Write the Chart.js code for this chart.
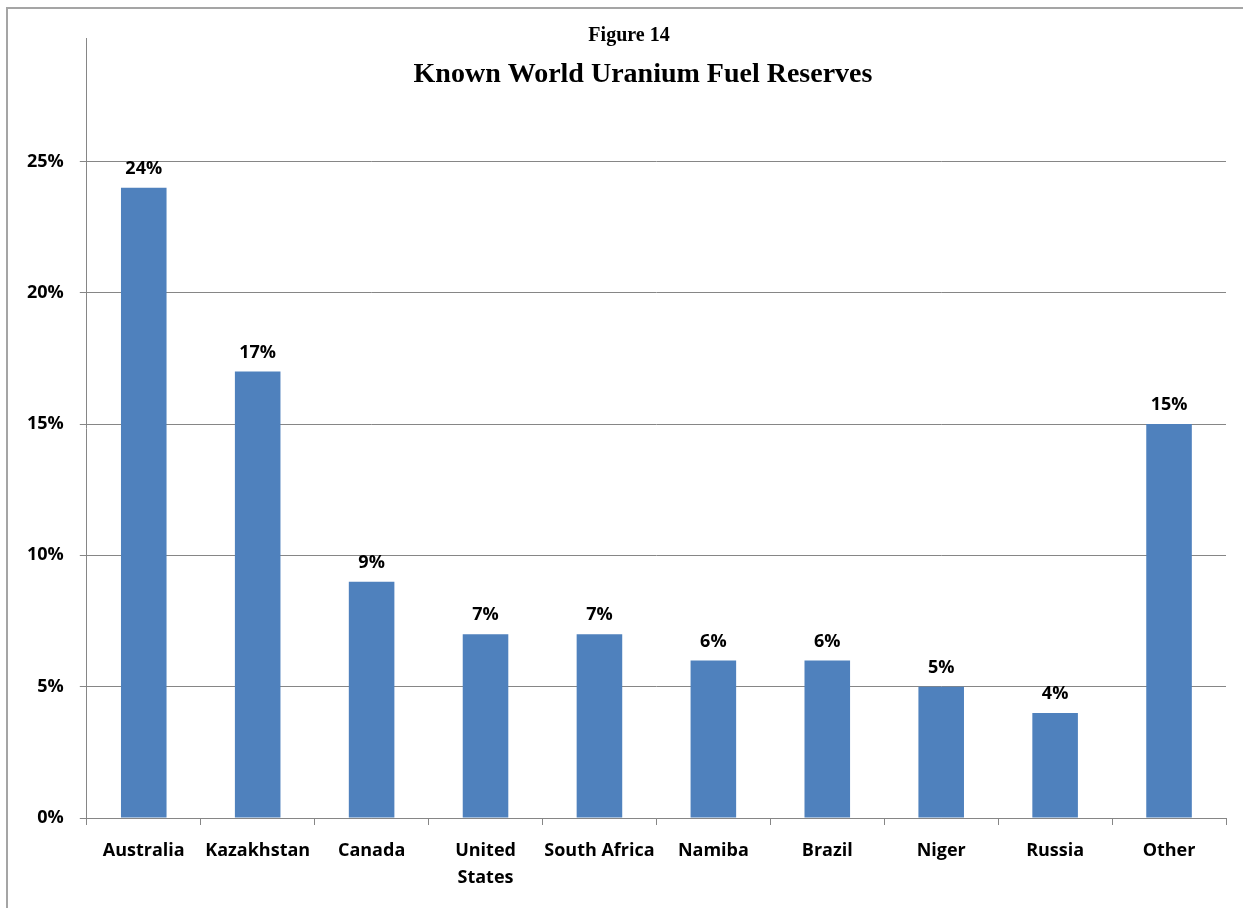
<!DOCTYPE html>
<html>
<head>
<meta charset="utf-8">
<script src="https://cdn.jsdelivr.net/npm/chart.js@4"></script>
<style>
  html, body { margin: 0; padding: 0; background: #fff; overflow: hidden; }
  #wrap { position: relative; width: 1243px; height: 908px; overflow: hidden; }
  #frame {
    position: absolute; left: 6px; top: 7px; width: 1300px; height: 1000px;
    border-left: 2px solid #a5a5a5; border-top: 2px solid #a5a5a5;
  }
  #chart { position: absolute; left: 0; top: 0; }
</style>
</head>
<body>
<div id="wrap">
  <div id="frame"></div>
  <canvas id="chart" width="1243" height="908"></canvas>
</div>
<script>
// ================= DATA =================
const countries = ["Australia", "Kazakhstan", "Canada", ["United", "States"], "South Africa",
                   "Namiba", "Brazil", "Niger", "Russia", "Other"];
const reserves = [24, 17, 9, 7, 7, 6, 6, 5, 4, 15];   // percent of known world reserves
const figureLabel = "Figure 14";
const chartTitle = "Known World Uranium Fuel Reserves";

const LABEL_FONT = "'Open Sans'";
const AXIS_GRAY = "#868686";

// ================= PLUGINS =================
// value labels above each bar
const barValues = {
    id: "barValues",
    afterDatasetsDraw(chart) {
        const ctx = chart.ctx;
        const meta = chart.getDatasetMeta(0);
        ctx.save();
        ctx.font = "bold 18px " + LABEL_FONT;
        ctx.fillStyle = "#000";
        ctx.textAlign = "center";
        ctx.textBaseline = "bottom";
        meta.data.forEach((bar, i) => {
            ctx.fillText(reserves[i] + "%", bar.x, bar.y - 10);
        });
        ctx.restore();
    }
};

// two-line heading, drawn over the top of the plot area like the original
const heading = {
    id: "heading",
    afterDraw(chart) {
        const ctx = chart.ctx;
        ctx.save();
        ctx.fillStyle = "#000";
        ctx.textAlign = "center";
        ctx.textBaseline = "alphabetic";
        ctx.font = "bold 20px 'Liberation Serif'";
        ctx.fillText(figureLabel, 629, 41);
        ctx.font = "bold 28px 'Liberation Serif'";
        ctx.fillText(chartTitle, 643, 82);
        ctx.restore();
    }
};

// ================= CHART =================
const ctx = document.getElementById("chart").getContext("2d");
new Chart(ctx, {
    type: "bar",
    data: {
        labels: countries,
        datasets: [{
            data: reserves,
            backgroundColor: "#4f81bd",
            borderWidth: 0,
            barPercentage: 0.4,
            categoryPercentage: 1.0
        }]
    },
    options: {
        responsive: false,
        animation: false,
        layout: {
            padding: { left: 11, right: 17, top: 38, bottom: 5 }
        },
        plugins: {
            legend: { display: false },
            tooltip: { enabled: false }
        },
        scales: {
            x: {
                grid: {
                    offset: true,
                    drawOnChartArea: false,
                    drawTicks: true,
                    tickLength: 7,
                    color: AXIS_GRAY
                },
                border: { color: AXIS_GRAY, width: 1 },
                ticks: {
                    color: "#000",
                    padding: 12,
                    maxRotation: 0,
                    autoSkip: false,
                    font: { family: LABEL_FONT, size: 18, weight: "bold", lineHeight: 1.5 }
                }
            },
            y: {
                min: 0,
                max: 29.7,
                grid: {
                    color: AXIS_GRAY,
                    tickLength: 7
                },
                border: { color: AXIS_GRAY, width: 1 },
                ticks: {
                    stepSize: 5,
                    includeBounds: false,
                    padding: 16,
                    color: "#000",
                    font: { family: LABEL_FONT, size: 18, weight: "bold" },
                    callback: v => v + "%"
                }
            }
        }
    },
    plugins: [barValues, heading]
});
</script>
</body>
</html>
